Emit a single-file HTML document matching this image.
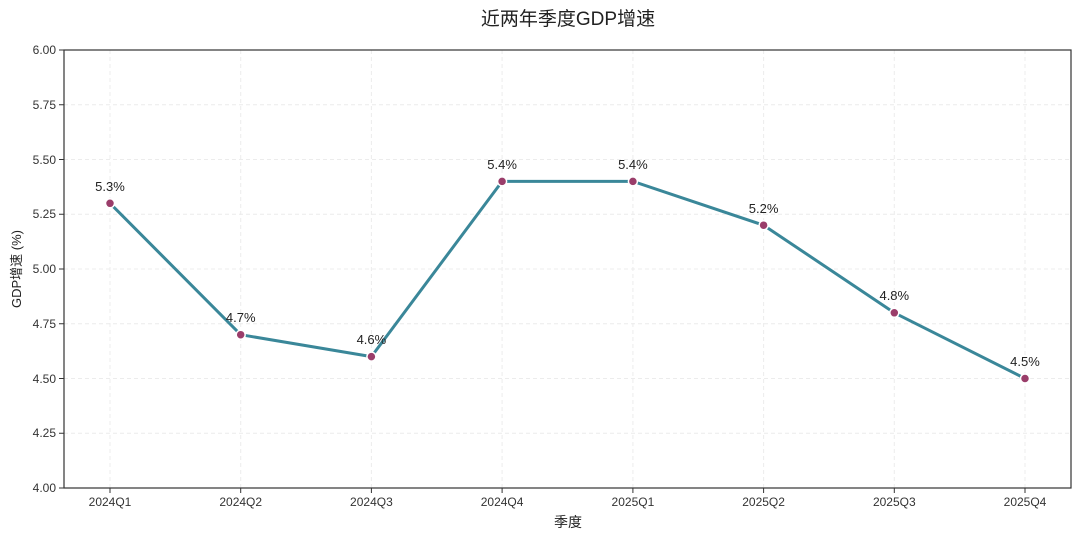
<!DOCTYPE html>
<html><head><meta charset="utf-8"><style>
html,body{margin:0;padding:0;background:#fff;}
svg{display:block;font-family:"Liberation Sans","Noto Sans CJK SC",sans-serif;}
</style></head><body>
<svg width="1080" height="537" viewBox="0 0 1080 537">
<rect width="1080" height="537" fill="#fff"/>
<text x="568" y="25" font-size="19" text-anchor="middle" fill="#222">近两年季度GDP增速</text>
<g stroke="#ececec" stroke-width="1" stroke-dasharray="4,3">
<line x1="64" x2="1071" y1="104.75" y2="104.75"/>
<line x1="64" x2="1071" y1="159.5" y2="159.5"/>
<line x1="64" x2="1071" y1="214.25" y2="214.25"/>
<line x1="64" x2="1071" y1="269" y2="269"/>
<line x1="64" x2="1071" y1="323.75" y2="323.75"/>
<line x1="64" x2="1071" y1="378.5" y2="378.5"/>
<line x1="64" x2="1071" y1="433.25" y2="433.25"/>
<line y1="50" y2="488" x1="110" x2="110"/>
<line y1="50" y2="488" x1="240.7" x2="240.7"/>
<line y1="50" y2="488" x1="371.4" x2="371.4"/>
<line y1="50" y2="488" x1="502.1" x2="502.1"/>
<line y1="50" y2="488" x1="632.9" x2="632.9"/>
<line y1="50" y2="488" x1="763.6" x2="763.6"/>
<line y1="50" y2="488" x1="894.3" x2="894.3"/>
<line y1="50" y2="488" x1="1025" x2="1025"/>
</g>
<rect x="64" y="50" width="1007" height="438" fill="none" stroke="#333" stroke-width="1.2"/>
<g stroke="#333" stroke-width="1">
<line x1="59" x2="64" y1="50" y2="50"/><line x1="59" x2="64" y1="104.75" y2="104.75"/><line x1="59" x2="64" y1="159.5" y2="159.5"/><line x1="59" x2="64" y1="214.25" y2="214.25"/><line x1="59" x2="64" y1="269" y2="269"/><line x1="59" x2="64" y1="323.75" y2="323.75"/><line x1="59" x2="64" y1="378.5" y2="378.5"/><line x1="59" x2="64" y1="433.25" y2="433.25"/><line x1="59" x2="64" y1="488" y2="488"/>
<line y1="488" y2="493" x1="110" x2="110"/><line y1="488" y2="493" x1="240.7" x2="240.7"/><line y1="488" y2="493" x1="371.4" x2="371.4"/><line y1="488" y2="493" x1="502.1" x2="502.1"/><line y1="488" y2="493" x1="632.9" x2="632.9"/><line y1="488" y2="493" x1="763.6" x2="763.6"/><line y1="488" y2="493" x1="894.3" x2="894.3"/><line y1="488" y2="493" x1="1025" x2="1025"/>
</g>
<g font-size="12" fill="#333" text-anchor="end">
<text x="56" y="54">6.00</text><text x="56" y="109">5.75</text><text x="56" y="164">5.50</text><text x="56" y="218">5.25</text><text x="56" y="273">5.00</text><text x="56" y="328">4.75</text><text x="56" y="383">4.50</text><text x="56" y="437">4.25</text><text x="56" y="492">4.00</text>
</g>
<g font-size="12" fill="#333" text-anchor="middle">
<text x="110" y="506">2024Q1</text><text x="240.7" y="506">2024Q2</text><text x="371.4" y="506">2024Q3</text><text x="502.1" y="506">2024Q4</text><text x="632.9" y="506">2025Q1</text><text x="763.6" y="506">2025Q2</text><text x="894.3" y="506">2025Q3</text><text x="1025" y="506">2025Q4</text>
</g>
<text x="568" y="527" font-size="14" text-anchor="middle" fill="#222">季度</text>
<text transform="translate(21,269) rotate(-90)" font-size="13" text-anchor="middle" fill="#222">GDP增速 (%)</text>
<polyline fill="none" stroke="#3a8799" stroke-width="3" stroke-linejoin="round" points="110,203.3 240.7,334.7 371.4,356.6 502.1,181.4 632.9,181.4 763.6,225.2 894.3,312.8 1025,378.5"/>
<g fill="#9a3d6a" stroke="#fff" stroke-width="1.5">
<circle cx="110" cy="203.3" r="4.5"/><circle cx="240.7" cy="334.7" r="4.5"/><circle cx="371.4" cy="356.6" r="4.5"/><circle cx="502.1" cy="181.4" r="4.5"/><circle cx="632.9" cy="181.4" r="4.5"/><circle cx="763.6" cy="225.2" r="4.5"/><circle cx="894.3" cy="312.8" r="4.5"/><circle cx="1025" cy="378.5" r="4.5"/>
</g>
<g font-size="13" fill="#222" text-anchor="middle">
<text x="110" y="191">5.3%</text><text x="240.7" y="322">4.7%</text><text x="371.4" y="344">4.6%</text><text x="502.1" y="169">5.4%</text><text x="632.9" y="169">5.4%</text><text x="763.6" y="213">5.2%</text><text x="894.3" y="300">4.8%</text><text x="1025" y="366">4.5%</text>
</g>
</svg>
</body></html>
